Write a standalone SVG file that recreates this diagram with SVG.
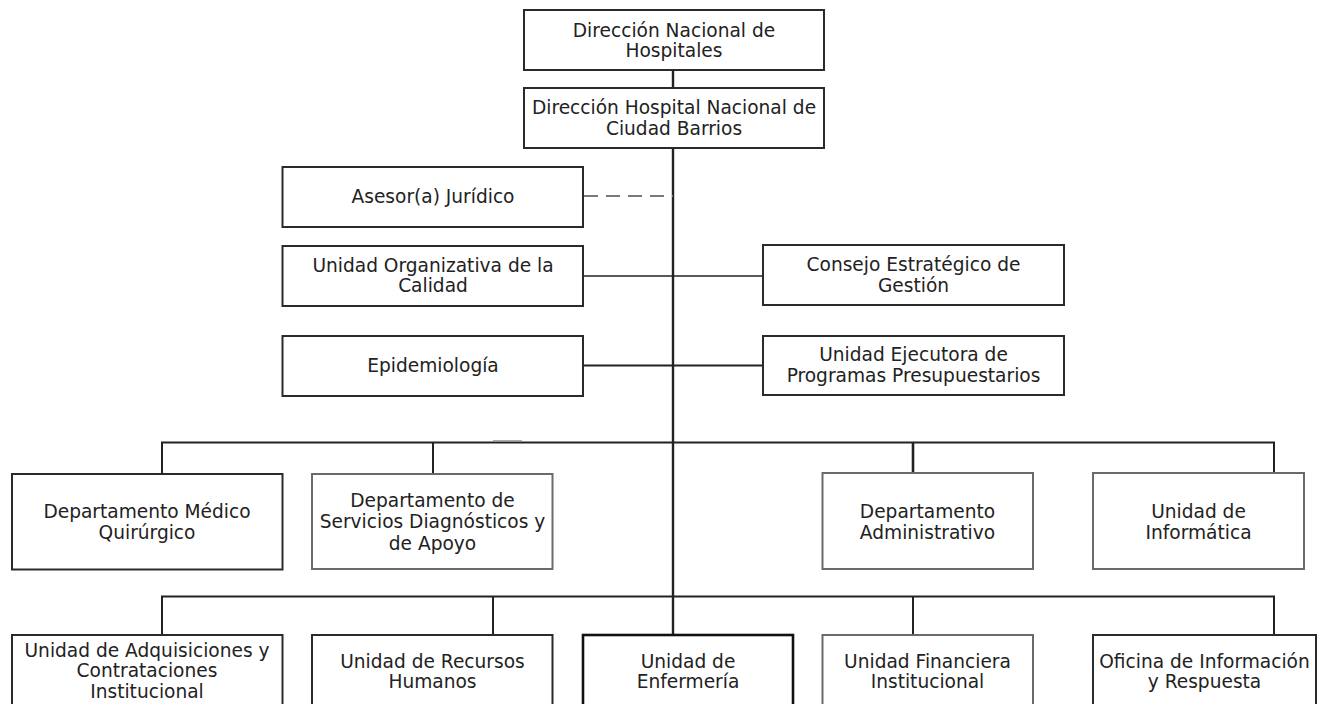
<svg xmlns="http://www.w3.org/2000/svg" width="1330" height="704" viewBox="0 0 1330 704">
<style>
.box{fill:#fff;stroke:#2a2a2a;stroke-width:2}
.gbox{fill:#fff;stroke:#6a6a6a;stroke-width:2}
.thick{fill:#fff;stroke:#111;stroke-width:2.6}
.lbl{font-family:"DejaVu Sans",sans-serif;font-size:18.6px;fill:#222;text-anchor:middle}
.ln{stroke:#222;stroke-width:2;fill:none}
.thin{stroke:#222;stroke-width:1.4;fill:none}
.dash{stroke:#7a7a7a;stroke-width:2;stroke-dasharray:14 8;fill:none}
</style>
<rect width="1330" height="704" fill="#fff"/>
<g id="connectors">
<line class="ln" x1="673" y1="70" x2="673" y2="635" style="stroke-width:2.4"/>
<line class="dash" x1="584" y1="196" x2="673" y2="196"/>
<line class="thin" x1="583" y1="276" x2="763" y2="276"/>
<line class="thin" x1="583" y1="365.5" x2="763" y2="365.5" style="stroke-width:1.8"/>
<polyline class="ln" points="162,474 162,442.5 1274,442.5 1274,474"/>
<line class="ln" x1="433" y1="442.5" x2="433" y2="474"/>
<line class="ln" x1="913" y1="442.5" x2="913" y2="474" style="stroke-width:2.6"/>
<line x1="493" y1="440.5" x2="522" y2="440.5" stroke="#aaa" stroke-width="1"/>
<polyline class="ln" points="162,635 162,596.5 1274,596.5 1274,635"/>
<line class="ln" x1="493" y1="596.5" x2="493" y2="635"/>
<line class="ln" x1="913" y1="596.5" x2="913" y2="635"/>
</g>
<g id="n-dnh"><rect class="box" x="524" y="10" width="300" height="60"/><text class="lbl" x="674" y="36.5">Dirección Nacional de</text><text class="lbl" x="674" y="57">Hospitales</text></g>
<g id="n-dhn"><rect class="box" x="524" y="88" width="300" height="60"/><text class="lbl" x="674" y="114">Dirección Hospital Nacional de</text><text class="lbl" x="674" y="134.5">Ciudad Barrios</text></g>
<g id="n-asesor"><rect class="box" x="282.5" y="167" width="300.5" height="60"/><text class="lbl" x="433" y="203">Asesor(a) Jurídico</text></g>
<g id="n-calidad"><rect class="box" x="282.5" y="246" width="300.5" height="60"/><text class="lbl" x="433" y="271.5">Unidad Organizativa de la</text><text class="lbl" x="433" y="292">Calidad</text></g>
<g id="n-epi"><rect class="box" x="282.5" y="336" width="300.5" height="60"/><text class="lbl" x="433" y="371.5">Epidemiología</text></g>
<g id="n-consejo"><rect class="box" x="763" y="245" width="301" height="60"/><text class="lbl" x="913.5" y="270.5">Consejo Estratégico de</text><text class="lbl" x="913.5" y="291.5">Gestión</text></g>
<g id="n-ejecutora"><rect class="box" x="763" y="336" width="301" height="59"/><text class="lbl" x="913.5" y="361">Unidad Ejecutora de</text><text class="lbl" x="913.5" y="381.5">Programas Presupuestarios</text></g>
<g id="n-medico"><rect class="box" x="12" y="474" width="270.5" height="95.5"/><text class="lbl" x="147" y="518">Departamento Médico</text><text class="lbl" x="147" y="539">Quirúrgico</text></g>
<g id="n-servicios"><rect class="gbox" x="312" y="474" width="240.5" height="95"/><text class="lbl" x="432.5" y="506.5">Departamento de</text><text class="lbl" x="432.5" y="528">Servicios Diagnósticos y</text><text class="lbl" x="432.5" y="549.5">de Apoyo</text></g>
<g id="n-admin"><rect class="gbox" x="822.5" y="473" width="210.5" height="96"/><text class="lbl" x="927.5" y="518">Departamento</text><text class="lbl" x="927.5" y="539">Administrativo</text></g>
<g id="n-informatica"><rect class="gbox" x="1093" y="473" width="211" height="96"/><text class="lbl" x="1198.5" y="518">Unidad de</text><text class="lbl" x="1198.5" y="539">Informática</text></g>
<g id="n-adquisiciones"><rect class="box" x="12" y="635" width="270.5" height="90"/><text class="lbl" x="147" y="656.5">Unidad de Adquisiciones y</text><text class="lbl" x="147" y="677">Contrataciones</text><text class="lbl" x="147" y="697.5">Institucional</text></g>
<g id="n-rrhh"><rect class="box" x="312" y="635" width="240.5" height="90"/><text class="lbl" x="432.5" y="667.5">Unidad de Recursos</text><text class="lbl" x="432.5" y="688">Humanos</text></g>
<g id="n-enfermeria"><rect class="thick" x="583" y="635" width="210" height="90"/><text class="lbl" x="688" y="667.5">Unidad de</text><text class="lbl" x="688" y="688">Enfermería</text></g>
<g id="n-financiera"><rect class="gbox" x="822.5" y="635" width="210.5" height="90"/><text class="lbl" x="927.5" y="667.5">Unidad Financiera</text><text class="lbl" x="927.5" y="688">Institucional</text></g>
<g id="n-oficina"><rect class="box" x="1093" y="635" width="223" height="90"/><text class="lbl" x="1204.5" y="667.5">Oficina de Información</text><text class="lbl" x="1204.5" y="688">y Respuesta</text></g>
</svg>
